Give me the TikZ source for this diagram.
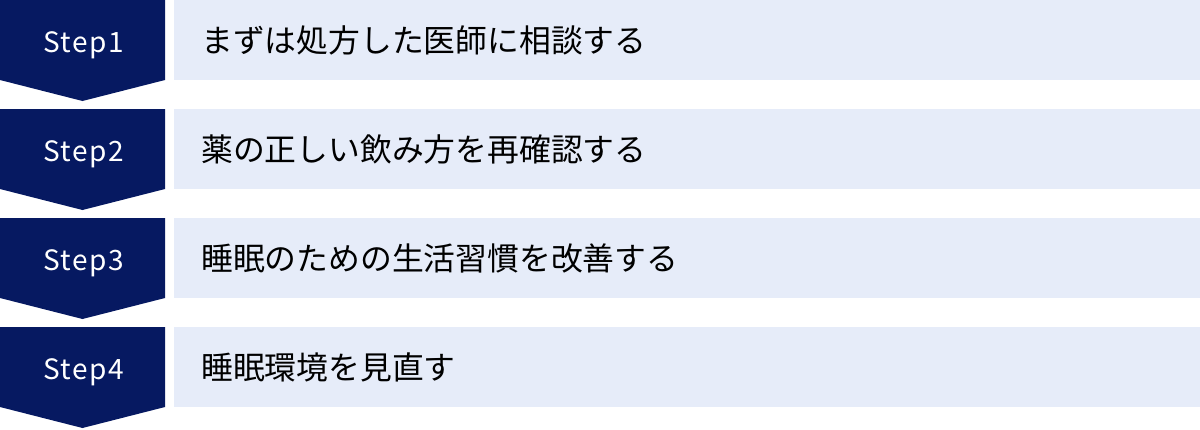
\documentclass[tikz,border=0pt]{standalone}
\usepackage{fontspec}
\setmainfont{Noto Sans CJK JP}
\definecolor{navy}{HTML}{061961}
\definecolor{pale}{HTML}{E6ECF9}
\begin{document}
\begin{tikzpicture}[x=1pt,y=-1pt,
  stepshape/.style={fill=navy,draw=none},
  barshape/.style={fill=pale,draw=none},
  steptext/.style={text=white,font=\fontsize{28}{32}\selectfont\addfontfeature{LetterSpace=5},inner sep=0pt,anchor=base},
  bartext/.style={text=black,font=\fontsize{31.8}{36}\selectfont,inner sep=0pt,anchor=west}]
\useasboundingbox (0,0) rectangle (1200,429);
\foreach \i/\lab/\txt in {0/Step1/まずは処方した医師に相談する,1/Step2/薬の正しい飲み方を再確認する,2/Step3/睡眠のための生活習慣を改善する,3/Step4/睡眠環境を見直す}{
  \pgfmathsetmacro{\y}{109*\i}
  \fill[stepshape] (0,\y) -- (165,\y) -- (165,\y+80) -- (82.5,\y+101) -- (0,\y+80) -- cycle;
  \fill[barshape] (174,\y) rectangle (1200,\y+80);
  \node[steptext] (s\i) at (83.5,\y+52) {\lab};
  \node[bartext] (t\i) at (201,\y+40.5) {\txt};
}
\end{tikzpicture}
\end{document}
